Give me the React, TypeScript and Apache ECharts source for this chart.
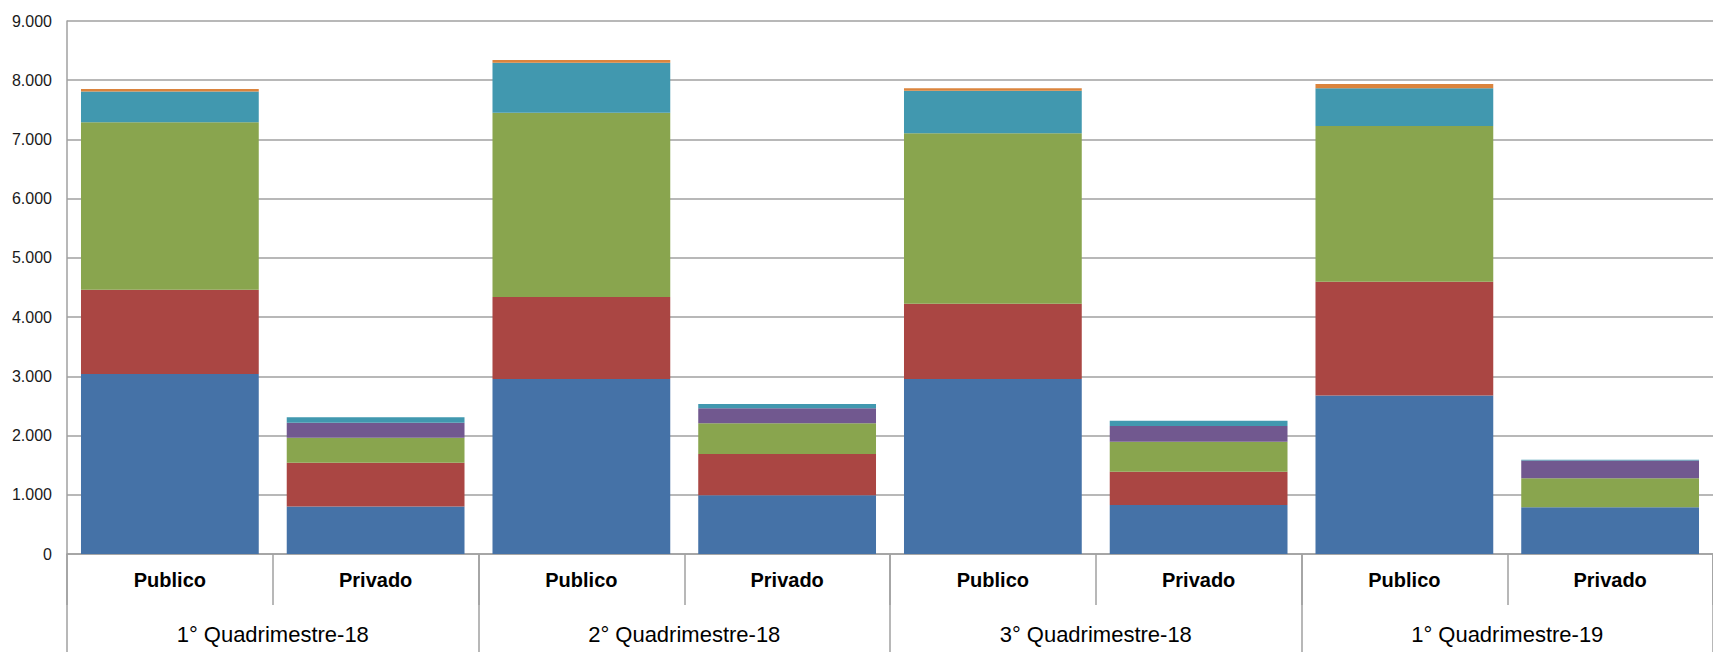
import React, { useEffect, useRef } from "react";
import * as echarts from "echarts";

const categories = ["Publico", "Privado", "Publico", "Privado", "Publico", "Privado", "Publico", "Privado"];
const groups = ["1° Quadrimestre-18", "2° Quadrimestre-18", "3° Quadrimestre-18", "1° Quadrimestre-19"];
const yTicks = [0, 1000, 2000, 3000, 4000, 5000, 6000, 7000, 8000, 9000];

const serie1 = [3040, 800, 2955, 991, 2955, 827, 2677, 789];
const serie2 = [1420, 742, 1385, 698, 1271, 563, 1918, 0];
const serie3 = [2830, 422, 3112, 518, 2878, 506, 2632, 489];
const serie4 = [0, 253, 0, 253, 0, 265, 0, 300];
const serie5 = [520, 91, 845, 73, 719, 90, 636, 12];
const serie6 = [40, 0, 45, 0, 40, 0, 74, 0];

const seriesNames = ["Série 1", "Série 2", "Série 3", "Série 4", "Série 5", "Série 6"];
const seriesData = [serie1, serie2, serie3, serie4, serie5, serie6];
const colors = ["#4572A7", "#AA4643", "#89A54E", "#71588F", "#4198AF", "#DB843D"];

const FONT = "'Liberation Sans', Arial, sans-serif";

export default function App() {
  const ref = useRef<HTMLDivElement>(null);
  useEffect(() => {
    if (!ref.current) return;
    const chart = echarts.init(ref.current, null, { renderer: "svg" });
    chart.setOption({
      animation: false,
      backgroundColor: "#ffffff",
      grid: { left: 67, right: 0, top: 21, bottom: 98, containLabel: false },
      xAxis: [
        {
          type: "category",
          data: categories,
          position: "bottom",
          axisLine: { show: true, lineStyle: { color: "#A0A0A0", width: 1.5 } },
          axisTick: { show: true, interval: 0, length: 51, lineStyle: { color: "#A0A0A0", width: 1.5 } },
          axisLabel: {
            interval: 0,
            margin: 16,
            color: "#000",
            fontFamily: FONT,
            fontWeight: "bold",
            fontSize: 20,
          },
        },
        {
          type: "category",
          data: groups,
          position: "bottom",
          axisLine: { show: false },
          axisTick: { show: true, interval: 0, length: 100, lineStyle: { color: "#A0A0A0", width: 1.5 } },
          axisLabel: {
            interval: 0,
            margin: 69,
            color: "#000",
            fontFamily: FONT,
            fontSize: 22,
          },
        },
      ],
      yAxis: {
        type: "value",
        min: yTicks[0],
        max: yTicks[yTicks.length - 1],
        interval: 1000,
        axisLine: { show: true, lineStyle: { color: "#A0A0A0", width: 1.5 } },
        axisTick: { show: false },
        splitLine: { show: true, lineStyle: { color: "#A0A0A0", width: 1.5 } },
        axisLabel: {
          margin: 15,
          color: "#1a1a1a",
          fontFamily: FONT,
          fontSize: 16,
          formatter: (v: number) => (v === 0 ? "0" : (v / 1000).toFixed(0) + ".000"),
        },
      },
      series: seriesData.map((d, i) => ({
        name: seriesNames[i],
        type: "bar",
        stack: "total",
        xAxisIndex: 0,
        data: d,
        barCategoryGap: "13.6%",
        itemStyle: { color: colors[i] },
      })),
    });
    return () => chart.dispose();
  }, []);
  return (
    <div
      ref={ref}
      style={{ position: "absolute", left: 0, top: 0, width: 1713, height: 652 }}
    />
  );
}
